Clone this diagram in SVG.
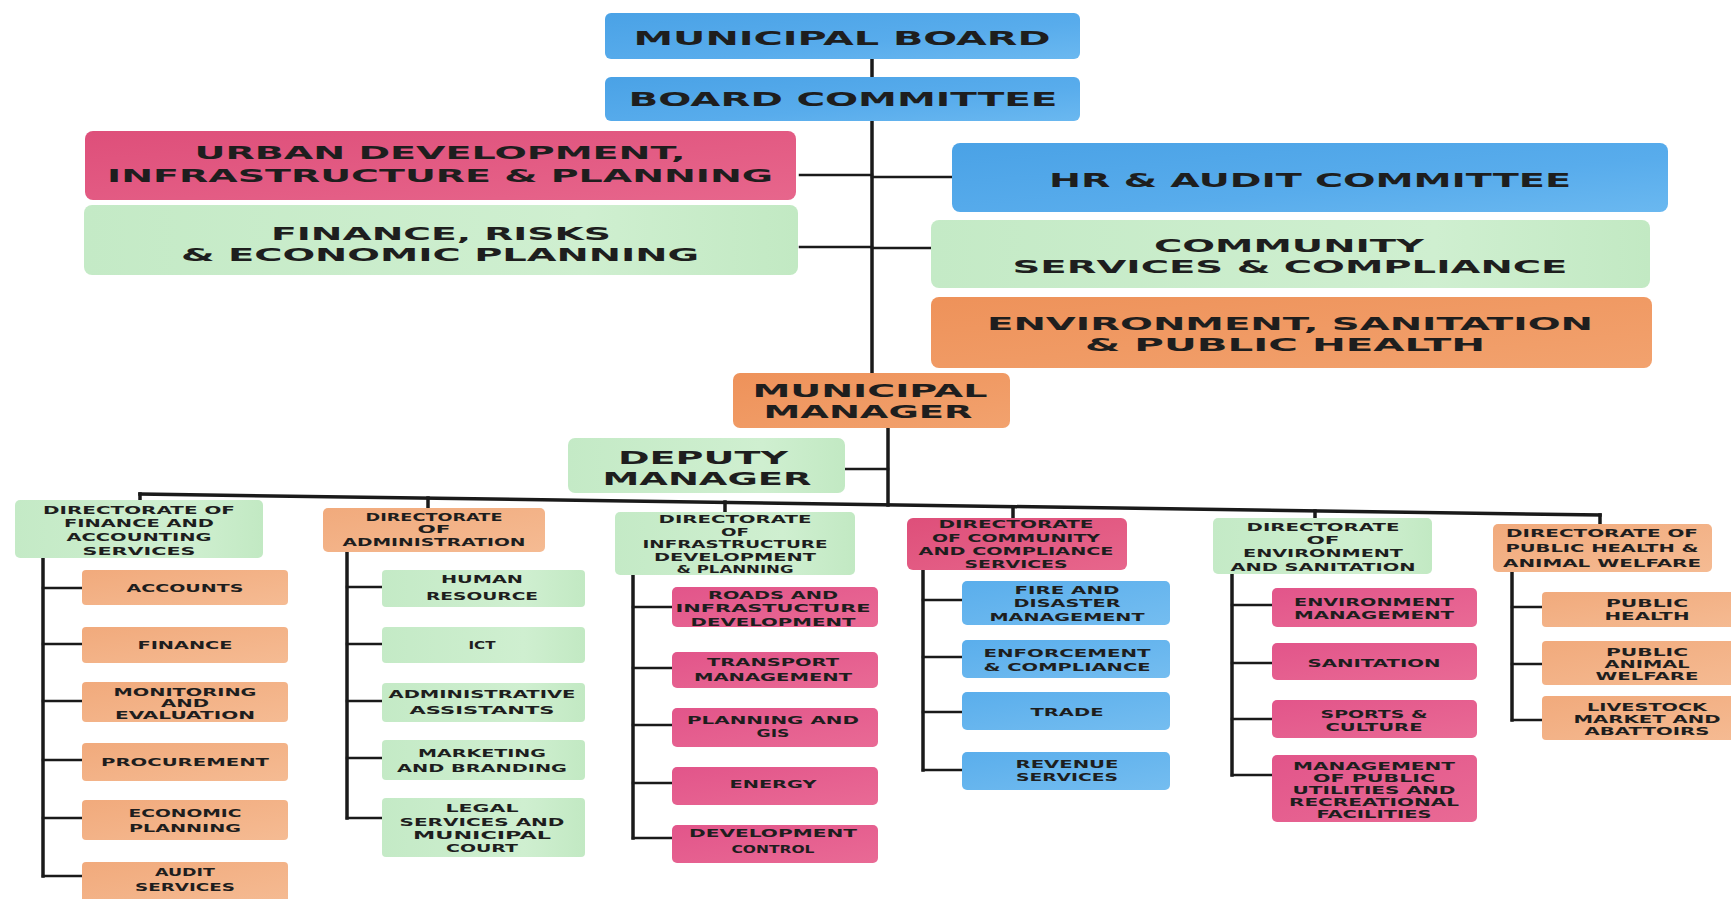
<svg xmlns="http://www.w3.org/2000/svg" width="1731" height="899" viewBox="0 0 1731 899">
<style>
.t{font-family:"DejaVu Sans","Liberation Sans",sans-serif;font-weight:bold;fill:#1e1e1e;text-anchor:middle}
.b{font-size:20px}
.m{font-size:17.5px}
.u{font-size:18.5px}
.s{font-size:10.5px}
.ln{stroke:#1a1a1a;stroke-width:2.5;fill:none;stroke-linecap:square}
.tk{stroke:#1a1a1a;stroke-width:3.5;fill:none;stroke-linecap:square}
.blue{fill:url(#gBlue)}
.pink{fill:url(#gPink)}
.green{fill:url(#gGreen)}
.orange{fill:url(#gOrange)}
.peach{fill:url(#gPeach)}
.cblue{fill:url(#gCBlue)}
.cpink{fill:url(#gCPink)}
</style>
<defs>
<linearGradient id="gBlue" x1="0" y1="0" x2="1" y2="1"><stop offset="0" stop-color="#4aa2e6"/><stop offset="0.6" stop-color="#58acec"/><stop offset="1" stop-color="#6ab8f0"/></linearGradient>
<linearGradient id="gCBlue" x1="0" y1="0" x2="1" y2="1"><stop offset="0" stop-color="#5aaeec"/><stop offset="1" stop-color="#74bdf0"/></linearGradient>
<linearGradient id="gPink" x1="0" y1="0" x2="1" y2="1"><stop offset="0" stop-color="#de4f7a"/><stop offset="1" stop-color="#e7668c"/></linearGradient>
<linearGradient id="gCPink" x1="0" y1="0" x2="1" y2="1"><stop offset="0" stop-color="#e2558a"/><stop offset="1" stop-color="#e96a95"/></linearGradient>
<linearGradient id="gGreen" x1="0" y1="0" x2="1" y2="0"><stop offset="0" stop-color="#c4eac6"/><stop offset="0.7" stop-color="#cfefd0"/><stop offset="1" stop-color="#c2e9c3"/></linearGradient>
<linearGradient id="gOrange" x1="0" y1="0" x2="1" y2="1"><stop offset="0" stop-color="#ee925a"/><stop offset="1" stop-color="#f2a26e"/></linearGradient>
<linearGradient id="gPeach" x1="0" y1="0" x2="1" y2="1"><stop offset="0" stop-color="#f1aa7c"/><stop offset="1" stop-color="#f5bb93"/></linearGradient>
</defs>
<rect width="1731" height="899" fill="#ffffff"/>

<g id="connectors">
<line class="tk" x1="872" y1="58" x2="872" y2="374"/>
<line class="ln" x1="800" y1="175" x2="872" y2="175"/>
<line class="ln" x1="800" y1="247" x2="872" y2="247"/>
<line class="ln" x1="872" y1="177" x2="952" y2="177"/>
<line class="ln" x1="872" y1="248" x2="931" y2="248"/>
<line class="tk" x1="888" y1="428" x2="888" y2="505"/>
<line class="ln" x1="845" y1="469" x2="888" y2="469"/>
<line class="tk" x1="140" y1="494" x2="1600" y2="515"/>
<line class="tk" x1="140" y1="494" x2="140" y2="501"/>
<line class="tk" x1="428" y1="498" x2="428" y2="509"/>
<line class="tk" x1="725" y1="502" x2="725" y2="513"/>
<line class="tk" x1="1013" y1="507" x2="1013" y2="519"/>
<line class="tk" x1="1315" y1="511" x2="1315" y2="520"/>
<line class="tk" x1="1600" y1="515" x2="1600" y2="525"/>
<line class="tk" x1="43" y1="558" x2="43" y2="876"/>
<path class="ln" d="M43 588H82M43 644H82M43 701H82M43 760H82M43 818H82M43 876H82"/>
<line class="tk" x1="347" y1="552" x2="347" y2="818"/>
<path class="ln" d="M347 587H382M347 644H382M347 701H382M347 758H382M347 818H382"/>
<line class="tk" x1="633" y1="575" x2="633" y2="838"/>
<path class="ln" d="M633 607H672M633 668H672M633 725H672M633 783H672M633 838H672"/>
<line class="tk" x1="923" y1="570" x2="923" y2="770"/>
<path class="ln" d="M923 600H962M923 657H962M923 712H962M923 770H962"/>
<line class="tk" x1="1232" y1="574" x2="1232" y2="775"/>
<path class="ln" d="M1232 605H1272M1232 663H1272M1232 719H1272M1232 775H1272"/>
<line class="tk" x1="1512" y1="572" x2="1512" y2="720"/>
<path class="ln" d="M1512 607H1542M1512 664H1542M1512 720H1542"/>
</g>

<g id="municipal-board"><rect class="blue" x="605" y="13" width="475" height="46" rx="6"/><text class="t b" x="842" y="45" textLength="417" lengthAdjust="spacingAndGlyphs">MUNICIPAL BOARD</text></g>
<g id="board-committee"><rect class="blue" x="605" y="77" width="475" height="44" rx="6"/><text class="t b" x="843" y="106" textLength="429" lengthAdjust="spacingAndGlyphs">BOARD COMMITTEE</text></g>
<g id="urban-development"><rect class="pink" x="85" y="131" width="711" height="69" rx="8"/><text class="t u" x="440" y="159" textLength="491" lengthAdjust="spacingAndGlyphs">URBAN DEVELOPMENT,</text><text class="t u" x="440" y="182" textLength="666" lengthAdjust="spacingAndGlyphs">INFRASTRUCTURE &amp; PLANNING</text></g>
<g id="finance-risks"><rect class="green" x="84" y="205" width="714" height="70" rx="8"/><text class="t m" x="441" y="240" textLength="340" lengthAdjust="spacingAndGlyphs">FINANCE, RISKS</text><text class="t m" x="440" y="261" textLength="518" lengthAdjust="spacingAndGlyphs">&amp; ECONOMIC PLANNING</text></g>
<g id="hr-audit"><rect class="blue" x="952" y="143" width="716" height="69" rx="8"/><text class="t b" x="1310" y="187" textLength="522" lengthAdjust="spacingAndGlyphs">HR &amp; AUDIT COMMITTEE</text></g>
<g id="community-services"><rect class="green" x="931" y="220" width="719" height="68" rx="8"/><text class="t m" x="1289" y="252" textLength="270" lengthAdjust="spacingAndGlyphs">COMMUNITY</text><text class="t m" x="1290" y="273" textLength="555" lengthAdjust="spacingAndGlyphs">SERVICES &amp; COMPLIANCE</text></g>
<g id="environment-sanitation"><rect class="orange" x="931" y="297" width="721" height="71" rx="8"/><text class="t m" x="1290" y="330" textLength="606" lengthAdjust="spacingAndGlyphs">ENVIRONMENT, SANITATION</text><text class="t m" x="1285" y="351" textLength="400" lengthAdjust="spacingAndGlyphs">&amp; PUBLIC HEALTH</text></g>
<g id="municipal-manager"><rect class="orange" x="733" y="373" width="277" height="55" rx="7"/><text class="t m" x="870" y="397" textLength="235" lengthAdjust="spacingAndGlyphs">MUNICIPAL</text><text class="t m" x="868" y="418" textLength="209" lengthAdjust="spacingAndGlyphs">MANAGER</text></g>
<g id="deputy-manager"><rect class="green" x="568" y="438" width="277" height="55" rx="7"/><text class="t m" x="703" y="464" textLength="170" lengthAdjust="spacingAndGlyphs">DEPUTY</text><text class="t m" x="707" y="485" textLength="209" lengthAdjust="spacingAndGlyphs">MANAGER</text></g>

<g id="dir-finance"><rect class="green" x="15" y="500" width="248" height="58" rx="5"/>
<text class="t s" x="139" y="514" textLength="192" lengthAdjust="spacingAndGlyphs">DIRECTORATE OF</text>
<text class="t s" x="139" y="527" textLength="150" lengthAdjust="spacingAndGlyphs">FINANCE AND</text>
<text class="t s" x="139" y="541" textLength="145" lengthAdjust="spacingAndGlyphs">ACCOUNTING</text>
<text class="t s" x="139" y="555" textLength="113" lengthAdjust="spacingAndGlyphs">SERVICES</text></g>
<g id="accounts"><rect class="peach" x="82" y="570" width="206" height="35" rx="4"/><text class="t s" x="185" y="592" textLength="117" lengthAdjust="spacingAndGlyphs">ACCOUNTS</text></g>
<g id="finance"><rect class="peach" x="82" y="627" width="206" height="36" rx="4"/><text class="t s" x="185" y="649" textLength="95" lengthAdjust="spacingAndGlyphs">FINANCE</text></g>
<g id="monitoring"><rect class="peach" x="82" y="682" width="206" height="40" rx="4"/><text class="t s" x="185" y="696" textLength="143" lengthAdjust="spacingAndGlyphs">MONITORING</text><text class="t s" x="185" y="707" textLength="48" lengthAdjust="spacingAndGlyphs">AND</text><text class="t s" x="185" y="719" textLength="140" lengthAdjust="spacingAndGlyphs">EVALUATION</text></g>
<g id="procurement"><rect class="peach" x="82" y="743" width="206" height="38" rx="4"/><text class="t s" x="185" y="766" textLength="168" lengthAdjust="spacingAndGlyphs">PROCUREMENT</text></g>
<g id="economic-planning"><rect class="peach" x="82" y="800" width="206" height="40" rx="4"/><text class="t s" x="185" y="817" textLength="113" lengthAdjust="spacingAndGlyphs">ECONOMIC</text><text class="t s" x="185" y="832" textLength="112" lengthAdjust="spacingAndGlyphs">PLANNING</text></g>
<g id="audit-services"><rect class="peach" x="82" y="862" width="206" height="42" rx="4"/><text class="t s" x="185" y="876" textLength="60" lengthAdjust="spacingAndGlyphs">AUDIT</text><text class="t s" x="185" y="891" textLength="100" lengthAdjust="spacingAndGlyphs">SERVICES</text></g>

<g id="dir-administration"><rect class="peach" x="323" y="508" width="222" height="44" rx="5"/>
<text class="t s" x="434" y="521" textLength="137" lengthAdjust="spacingAndGlyphs">DIRECTORATE</text>
<text class="t s" x="434" y="533" textLength="33" lengthAdjust="spacingAndGlyphs">OF</text>
<text class="t s" x="434" y="546" textLength="183" lengthAdjust="spacingAndGlyphs">ADMINISTRATION</text></g>
<g id="human-resource"><rect class="green" x="382" y="570" width="203" height="37" rx="4"/><text class="t s" x="482" y="583" textLength="82" lengthAdjust="spacingAndGlyphs">HUMAN</text><text class="t s" x="482" y="600" textLength="112" lengthAdjust="spacingAndGlyphs">RESOURCE</text></g>
<g id="ict"><rect class="green" x="382" y="627" width="203" height="36" rx="4"/><text class="t s" x="482" y="649" textLength="27" lengthAdjust="spacingAndGlyphs">ICT</text></g>
<g id="admin-assistants"><rect class="green" x="382" y="683" width="203" height="39" rx="4"/><text class="t s" x="482" y="698" textLength="187" lengthAdjust="spacingAndGlyphs">ADMINISTRATIVE</text><text class="t s" x="482" y="714" textLength="145" lengthAdjust="spacingAndGlyphs">ASSISTANTS</text></g>
<g id="marketing"><rect class="green" x="382" y="740" width="203" height="40" rx="4"/><text class="t s" x="482" y="757" textLength="128" lengthAdjust="spacingAndGlyphs">MARKETING</text><text class="t s" x="482" y="772" textLength="170" lengthAdjust="spacingAndGlyphs">AND BRANDING</text></g>
<g id="legal-services"><rect class="green" x="382" y="798" width="203" height="59" rx="4"/><text class="t s" x="482" y="812" textLength="73" lengthAdjust="spacingAndGlyphs">LEGAL</text><text class="t s" x="482" y="826" textLength="165" lengthAdjust="spacingAndGlyphs">SERVICES AND</text><text class="t s" x="482" y="839" textLength="138" lengthAdjust="spacingAndGlyphs">MUNICIPAL</text><text class="t s" x="482" y="852" textLength="72" lengthAdjust="spacingAndGlyphs">COURT</text></g>

<g id="dir-infrastructure"><rect class="green" x="615" y="512" width="240" height="63" rx="5"/>
<text class="t s" x="735" y="523" textLength="153" lengthAdjust="spacingAndGlyphs">DIRECTORATE</text>
<text class="t s" x="735" y="536" textLength="28" lengthAdjust="spacingAndGlyphs">OF</text>
<text class="t s" x="735" y="548" textLength="185" lengthAdjust="spacingAndGlyphs">INFRASTRUCTURE</text>
<text class="t s" x="735" y="561" textLength="162" lengthAdjust="spacingAndGlyphs">DEVELOPMENT</text>
<text class="t s" x="735" y="573" textLength="117" lengthAdjust="spacingAndGlyphs">&amp; PLANNING</text></g>
<g id="roads"><rect class="cpink" x="672" y="587" width="206" height="40" rx="5"/><text class="t s" x="773" y="599" textLength="130" lengthAdjust="spacingAndGlyphs">ROADS AND</text><text class="t s" x="773" y="612" textLength="195" lengthAdjust="spacingAndGlyphs">INFRASTUCTURE</text><text class="t s" x="773" y="626" textLength="165" lengthAdjust="spacingAndGlyphs">DEVELOPMENT</text></g>
<g id="transport"><rect class="cpink" x="672" y="652" width="206" height="36" rx="5"/><text class="t s" x="773" y="666" textLength="132" lengthAdjust="spacingAndGlyphs">TRANSPORT</text><text class="t s" x="773" y="681" textLength="158" lengthAdjust="spacingAndGlyphs">MANAGEMENT</text></g>
<g id="planning-gis"><rect class="cpink" x="672" y="708" width="206" height="39" rx="5"/><text class="t s" x="773" y="724" textLength="172" lengthAdjust="spacingAndGlyphs">PLANNING AND</text><text class="t s" x="773" y="737" textLength="33" lengthAdjust="spacingAndGlyphs">GIS</text></g>
<g id="energy"><rect class="cpink" x="672" y="767" width="206" height="38" rx="5"/><text class="t s" x="773" y="788" textLength="87" lengthAdjust="spacingAndGlyphs">ENERGY</text></g>
<g id="development-control"><rect class="cpink" x="672" y="825" width="206" height="38" rx="5"/><text class="t s" x="773" y="837" textLength="168" lengthAdjust="spacingAndGlyphs">DEVELOPMENT</text><text class="t s" x="773" y="853" textLength="83" lengthAdjust="spacingAndGlyphs">CONTROL</text></g>

<g id="dir-community"><rect class="pink" x="907" y="518" width="220" height="52" rx="6"/>
<text class="t s" x="1016" y="528" textLength="155" lengthAdjust="spacingAndGlyphs">DIRECTORATE</text>
<text class="t s" x="1016" y="542" textLength="168" lengthAdjust="spacingAndGlyphs">OF COMMUNITY</text>
<text class="t s" x="1016" y="555" textLength="195" lengthAdjust="spacingAndGlyphs">AND COMPLIANCE</text>
<text class="t s" x="1016" y="568" textLength="103" lengthAdjust="spacingAndGlyphs">SERVICES</text></g>
<g id="fire-disaster"><rect class="cblue" x="962" y="581" width="208" height="44" rx="5"/><text class="t s" x="1067" y="594" textLength="105" lengthAdjust="spacingAndGlyphs">FIRE AND</text><text class="t s" x="1067" y="607" textLength="107" lengthAdjust="spacingAndGlyphs">DISASTER</text><text class="t s" x="1067" y="621" textLength="155" lengthAdjust="spacingAndGlyphs">MANAGEMENT</text></g>
<g id="enforcement"><rect class="cblue" x="962" y="640" width="208" height="38" rx="5"/><text class="t s" x="1067" y="657" textLength="167" lengthAdjust="spacingAndGlyphs">ENFORCEMENT</text><text class="t s" x="1067" y="671" textLength="167" lengthAdjust="spacingAndGlyphs">&amp; COMPLIANCE</text></g>
<g id="trade"><rect class="cblue" x="962" y="692" width="208" height="38" rx="5"/><text class="t s" x="1067" y="716" textLength="73" lengthAdjust="spacingAndGlyphs">TRADE</text></g>
<g id="revenue-services"><rect class="cblue" x="962" y="752" width="208" height="38" rx="5"/><text class="t s" x="1067" y="768" textLength="103" lengthAdjust="spacingAndGlyphs">REVENUE</text><text class="t s" x="1067" y="781" textLength="102" lengthAdjust="spacingAndGlyphs">SERVICES</text></g>

<g id="dir-environment"><rect class="green" x="1213" y="518" width="219" height="56" rx="5"/>
<text class="t s" x="1323" y="531" textLength="153" lengthAdjust="spacingAndGlyphs">DIRECTORATE</text>
<text class="t s" x="1323" y="544" textLength="33" lengthAdjust="spacingAndGlyphs">OF</text>
<text class="t s" x="1323" y="557" textLength="160" lengthAdjust="spacingAndGlyphs">ENVIRONMENT</text>
<text class="t s" x="1323" y="571" textLength="185" lengthAdjust="spacingAndGlyphs">AND SANITATION</text></g>
<g id="environment-management"><rect class="cpink" x="1272" y="588" width="205" height="39" rx="5"/><text class="t s" x="1374" y="606" textLength="160" lengthAdjust="spacingAndGlyphs">ENVIRONMENT</text><text class="t s" x="1374" y="619" textLength="160" lengthAdjust="spacingAndGlyphs">MANAGEMENT</text></g>
<g id="sanitation"><rect class="cpink" x="1272" y="643" width="205" height="37" rx="5"/><text class="t s" x="1374" y="667" textLength="133" lengthAdjust="spacingAndGlyphs">SANITATION</text></g>
<g id="sports-culture"><rect class="cpink" x="1272" y="700" width="205" height="38" rx="5"/><text class="t s" x="1374" y="718" textLength="107" lengthAdjust="spacingAndGlyphs">SPORTS &amp;</text><text class="t s" x="1374" y="731" textLength="97" lengthAdjust="spacingAndGlyphs">CULTURE</text></g>
<g id="public-utilities"><rect class="cpink" x="1272" y="755" width="205" height="67" rx="5"/><text class="t s" x="1374" y="770" textLength="162" lengthAdjust="spacingAndGlyphs">MANAGEMENT</text><text class="t s" x="1374" y="782" textLength="122" lengthAdjust="spacingAndGlyphs">OF PUBLIC</text><text class="t s" x="1374" y="794" textLength="163" lengthAdjust="spacingAndGlyphs">UTILITIES AND</text><text class="t s" x="1374" y="806" textLength="170" lengthAdjust="spacingAndGlyphs">RECREATIONAL</text><text class="t s" x="1374" y="818" textLength="115" lengthAdjust="spacingAndGlyphs">FACILITIES</text></g>

<g id="dir-public-health"><rect class="peach" x="1493" y="524" width="219" height="48" rx="5"/>
<text class="t s" x="1602" y="537" textLength="192" lengthAdjust="spacingAndGlyphs">DIRECTORATE OF</text>
<text class="t s" x="1602" y="552" textLength="193" lengthAdjust="spacingAndGlyphs">PUBLIC HEALTH &amp;</text>
<text class="t s" x="1602" y="567" textLength="198" lengthAdjust="spacingAndGlyphs">ANIMAL WELFARE</text></g>
<g id="public-health"><rect class="peach" x="1542" y="592" width="210" height="35" rx="4"/><text class="t s" x="1647" y="607" textLength="82" lengthAdjust="spacingAndGlyphs">PUBLIC</text><text class="t s" x="1647" y="620" textLength="85" lengthAdjust="spacingAndGlyphs">HEALTH</text></g>
<g id="animal-welfare"><rect class="peach" x="1542" y="641" width="210" height="44" rx="4"/><text class="t s" x="1647" y="656" textLength="82" lengthAdjust="spacingAndGlyphs">PUBLIC</text><text class="t s" x="1647" y="668" textLength="85" lengthAdjust="spacingAndGlyphs">ANIMAL</text><text class="t s" x="1647" y="680" textLength="103" lengthAdjust="spacingAndGlyphs">WELFARE</text></g>
<g id="livestock"><rect class="peach" x="1542" y="696" width="210" height="44" rx="4"/><text class="t s" x="1647" y="711" textLength="120" lengthAdjust="spacingAndGlyphs">LIVESTOCK</text><text class="t s" x="1647" y="723" textLength="147" lengthAdjust="spacingAndGlyphs">MARKET AND</text><text class="t s" x="1647" y="735" textLength="125" lengthAdjust="spacingAndGlyphs">ABATTOIRS</text></g>
</svg>
